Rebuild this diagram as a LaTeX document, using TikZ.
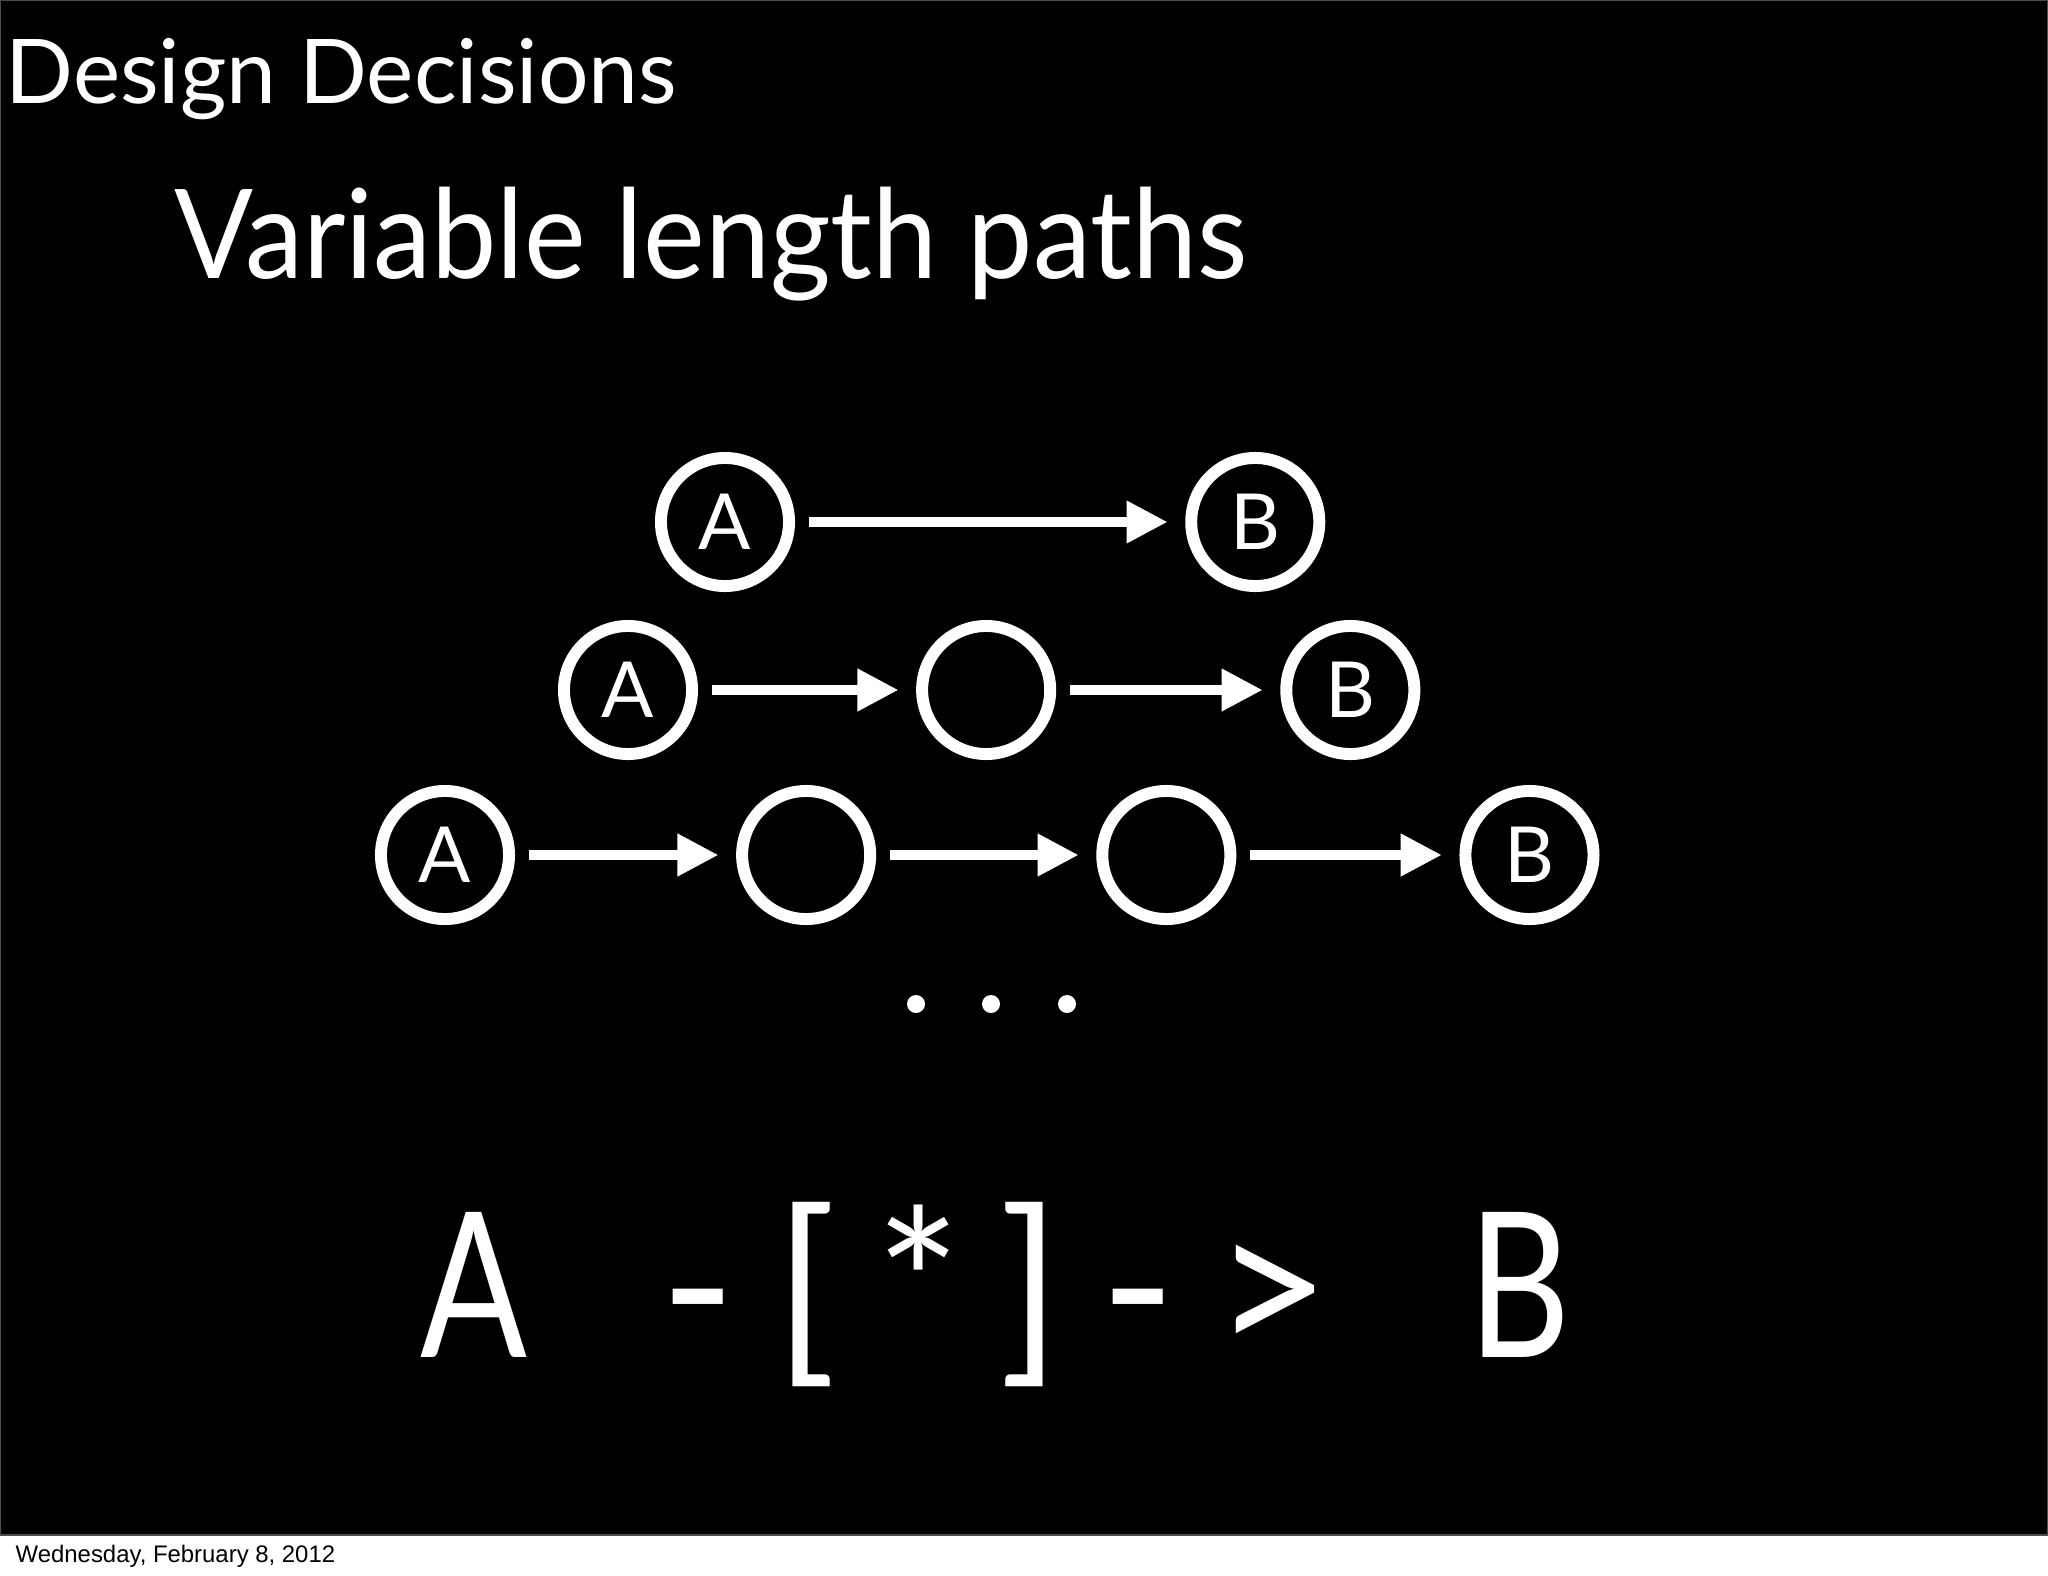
\documentclass[tikz,border=0pt]{standalone}
\usepackage{fontspec}
\setmainfont{Lato}
\newfontfamily\datefont{Liberation Sans}
\usetikzlibrary{positioning, arrows.meta}
\tikzset{
    vertex/.style={circle, draw=white, line width=3.4pt, minimum size=1.28cm,
      inner sep=0pt, text=white, font=\fontsize{22}{26}\selectfont},
    link/.style={white, line width=2.85pt, -{Triangle[length=11.7pt, width=11.4pt]},
      shorten <=4pt, shorten >=5pt},
    slide text/.style={white, inner sep=0pt, anchor=base west},
    query/.style={slide text, font=\fontsize{57.6}{66}\selectfont},
}

\begin{document}
\begin{tikzpicture}[x=0.01cm, y=-0.01cm]
    \useasboundingbox (0,0) rectangle (2048,1576);
    \fill[white] (0,0) rectangle (2048,1576);
    \filldraw[black, draw=black!70, line width=0.6pt] (0,0) rectangle (2048,1535);

    \node[slide text, font=\fontsize{25.4}{30}\selectfont] (title) at (5,104) {Design Decisions};
    \node[slide text, xscale=0.94, font=\fontsize{35.3}{42}\selectfont] (sub) at (174,278) {Variable length paths};

    % one step
    \node[vertex] (a1) at (725,522) {A};
    \node[vertex, right=3.9cm of a1] (b1) {B};
    \draw[link] (a1) -- (b1);

    % two steps
    \node[vertex] (a2) at (628,690) {A};
    \node[vertex, right=2.18cm of a2] (m2) {};
    \node[vertex, right=2.24cm of m2] (b2) {B};
    \draw[link] (a2) -- (m2);
    \draw[link] (m2) -- (b2);

    % three steps
    \node[vertex] (a3) at (445,855) {A};
    \node[vertex, right=2.21cm of a3] (m3) {};
    \node[vertex, right=2.2cm of m3] (n3) {};
    \node[vertex, right=2.23cm of n3] (b3) {B};
    \draw[link] (a3) -- (m3);
    \draw[link] (m3) -- (n3);
    \draw[link] (n3) -- (b3);

    \foreach \x in {916,991,1067}
      \fill[white] (\x,1004) circle (0.09cm);

    \node[query, xscale=0.78] (qa) at (420,1357) {A};
    \node[query] (qrel) at (660,1357) {\addfontfeature{LetterSpace=19}-[*]->};
    \node[query, xscale=0.78] (qb) at (1468,1357) {B};

    \node[inner sep=0pt, anchor=base west, font=\datefont\fontsize{6.8}{8}\selectfont] (date) at (15,1562) {Wednesday, February 8, 2012};
\end{tikzpicture}
\end{document}
